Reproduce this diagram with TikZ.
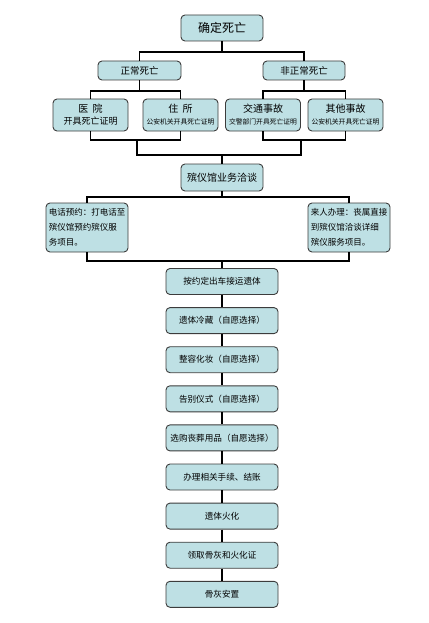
\documentclass[tikz,border=0pt]{standalone}
\usepackage{fontspec}
\newfontfamily\cjk{Noto Sans CJK SC}
\definecolor{boxfill}{RGB}{190,224,228}
\definecolor{boxline}{RGB}{60,60,60}
\tikzset{
  box/.style={draw=boxline,fill=boxfill,rounded corners=4pt,line width=0.9pt,inner sep=1pt,align=center},
  stepbox/.style={box,minimum width=112pt,minimum height=26pt,font=\cjk\fontsize{8.6}{10}\selectfont},
  link/.style={line width=1.8pt,black}
}
\begin{document}
\begin{tikzpicture}[x=1pt,y=-1pt]
\useasboundingbox (0,0) rectangle (428,623);
% top of the tree
\node[box,minimum width=82pt,minimum height=26pt,font=\cjk\fontsize{12}{14}\selectfont] (dead) at (222,28) {确定死亡};
\node[box,minimum width=83pt,minimum height=19pt,font=\cjk\fontsize{9.5}{11}\selectfont] (normal) at (139.5,70.5) {正常死亡};
\node[box,minimum width=82pt,minimum height=19pt,font=\cjk\fontsize{9.5}{11}\selectfont] (abnormal) at (304,70.5) {非正常死亡};
\node[box,minimum width=75pt,minimum height=32pt,font=\cjk] (hosp) at (90.5,115) {{\fontsize{10}{14}\selectfont 医\ \ 院}\\{\fontsize{9}{11}\selectfont 开具死亡证明}};
\node[box,minimum width=75pt,minimum height=32pt,font=\cjk] (home) at (180.5,115) {{\fontsize{10}{14}\selectfont 住\ \ 所}\\{\fontsize{6.8}{9}\selectfont 公安机关开具死亡证明}};
\node[box,minimum width=75pt,minimum height=32pt,font=\cjk] (traffic) at (263,115) {{\fontsize{10}{14}\selectfont 交通事故}\\{\fontsize{6.8}{9}\selectfont 交警部门开具死亡证明}};
\node[box,minimum width=75pt,minimum height=32pt,font=\cjk] (other) at (345.5,115) {{\fontsize{10}{14}\selectfont 其他事故}\\{\fontsize{6.8}{9}\selectfont 公安机关开具死亡证明}};
\node[box,minimum width=82pt,minimum height=27pt,font=\cjk\fontsize{10}{12}\selectfont] (talk) at (222,177.5) {殡仪馆业务洽谈};
\node[box,minimum width=82pt,minimum height=49pt,align=left,font=\cjk\fontsize{8.5}{15}\selectfont] (phone) at (87,227.5) {电话预约：打电话至\\殡仪馆预约殡仪服\\务项目。};
\node[box,minimum width=82pt,minimum height=49pt,align=left,font=\cjk\fontsize{8.5}{15}\selectfont] (visit) at (349,227.5) {来人办理：丧属直接\\到殡仪馆洽谈详细\\殡仪服务项目。};
% the chain of steps
\foreach \txt [count=\i from 0] in {按约定出车接运遗体,遗体冷藏（自愿选择）,整容化妆（自愿选择）,告别仪式（自愿选择）,选购丧葬用品（自愿选择）,办理相关手续、结账,遗体火化,领取骨灰和火化证,骨灰安置}
  \node[stepbox] (s\i) at (222,281.5+39.1*\i) {\txt};
% junctions
\coordinate (j0) at (222,52);
\coordinate (j1) at (139.5,91);
\coordinate (j2) at (304,91);
\coordinate (k1) at (137,140);
\coordinate (k2) at (301,140);
\coordinate (m) at (222,155);
\coordinate (j3) at (222,197);
\coordinate (j4) at (222,261);
\draw[link] (dead) -- (j0);
\draw[link] (normal.north) |- (j0) -| (abnormal.north);
\draw[link] (normal) -- (j1);
\draw[link] (hosp.north) |- (j1) -| (home.north);
\draw[link] (abnormal) -- (j2);
\draw[link] (traffic.north) |- (j2) -| (other.north);
\draw[link] (hosp.south) |- (k1) -| (home.south);
\draw[link] (traffic.south) |- (k2) -| (other.south);
\draw[link] (k1) |- (m) -| (k2);
\draw[link] (m) -- (talk);
\draw[link] (talk) -- (j3);
\draw[link] (phone.north) |- (j3) -| (visit.north);
\draw[link] (phone.south) |- (j4) -| (visit.south);
\draw[link] (j4) -- (s0);
\foreach \i [evaluate=\i as \j using int(\i+1)] in {0,...,7}
  \draw[link] (s\i) -- (s\j);
\end{tikzpicture}
\end{document}
